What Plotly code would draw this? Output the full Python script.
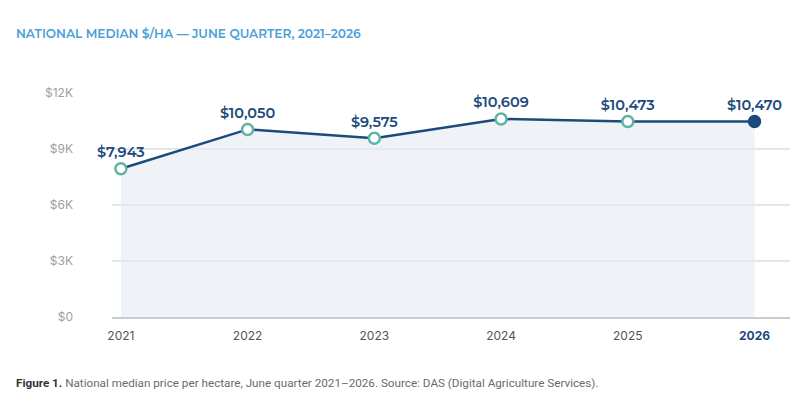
import plotly.graph_objects as go

years = [2021, 2022, 2023, 2024, 2025, 2026]
median_price = [7943, 10050, 9575, 10609, 10473, 10470]
price_labels = ["$7,943", "$10,050", "$9,575", "$10,609", "$10,473", "$10,470"]
y_ticks = [0, 3000, 6000, 9000, 12000]
y_tick_labels = ["$0", "$3K", "$6K", "$9K", "$12K"]

NAVY = "#1d4a7c"
TEAL = "#5db3a4"
# the page has an 8px body margin, so the figure is a bit smaller than the window
OFF = 8
W, H = 800 - OFF, 408 - OFF
L, R, T, B = 112 - OFF, 10, 93 - OFF, 91
pw = W - L - R
ph = H - T - B


def px_x(x):
    return (x - OFF - L) / pw


def px_y(y):
    return (H - B - (y - OFF)) / ph


fig = go.Figure()

fig.add_trace(go.Scatter(
    x=years, y=median_price,
    mode="lines",
    line=dict(color=NAVY, width=2.5),
    fill="tozeroy",
    fillcolor="rgba(228,235,242,0.6)",
    hoverinfo="skip",
))

marker_fill = ["white"] * (len(years) - 1) + [NAVY]
marker_line = [TEAL] * (len(years) - 1) + [NAVY]
fig.add_trace(go.Scatter(
    x=years, y=median_price,
    mode="markers+text",
    marker=dict(size=11, color=marker_fill, line=dict(color=marker_line, width=2.5)),
    text=price_labels,
    textposition="top center",
    textfont=dict(family="Montserrat, Inter, sans-serif", size=14.5, color=NAVY, weight=600),
    cliponaxis=False,
))

tick_text = [str(y) for y in years[:-1]] + [f"<b><span style='color:{NAVY}'>{years[-1]}</span></b>"]

fig.update_layout(
    width=W, height=H,
    margin=dict(l=L, r=R, t=T, b=B),
    paper_bgcolor="white",
    plot_bgcolor="white",
    showlegend=False,
    xaxis=dict(
        range=[2020.93, 2026.28],
        tickvals=years, ticktext=tick_text,
        showgrid=False, zeroline=False,
        showline=True, linecolor="#c9cdd2", linewidth=2,
        ticks="", ticklabelstandoff=7,
        tickfont=dict(family="Inter, sans-serif", size=12, color="#555"),
    ),
    yaxis=dict(
        range=[0, 12000],
        tickvals=y_ticks, ticktext=y_tick_labels,
        showgrid=True, gridcolor="#e4e6e9", gridwidth=1.5,
        zeroline=False, showline=False,
        ticks="", ticklabelstandoff=38,
        tickfont=dict(family="Inter, sans-serif", size=12, color="#a0a0a0"),
    ),
)

fig.add_annotation(
    text="NATIONAL MEDIAN $/HA — JUNE QUARTER, 2021–2026",
    xref="paper", yref="paper",
    x=px_x(14), y=px_y(34),
    xanchor="left", yanchor="middle", showarrow=False,
    font=dict(family="Montserrat, Inter, sans-serif", size=12.2, color="#4a9fd8", weight=600),
)

fig.add_annotation(
    text="<b>Figure 1.</b> <span style='color:#6b6b6b'>National median price per hectare, June quarter 2021–2026. "
         "Source: DAS (Digital Agriculture Services).</span>",
    xref="paper", yref="paper",
    x=px_x(14), y=px_y(383),
    xanchor="left", yanchor="middle", showarrow=False,
    font=dict(family="Roboto, sans-serif", size=11.7, color="#333"),
)

fig.write_html("out.html")
